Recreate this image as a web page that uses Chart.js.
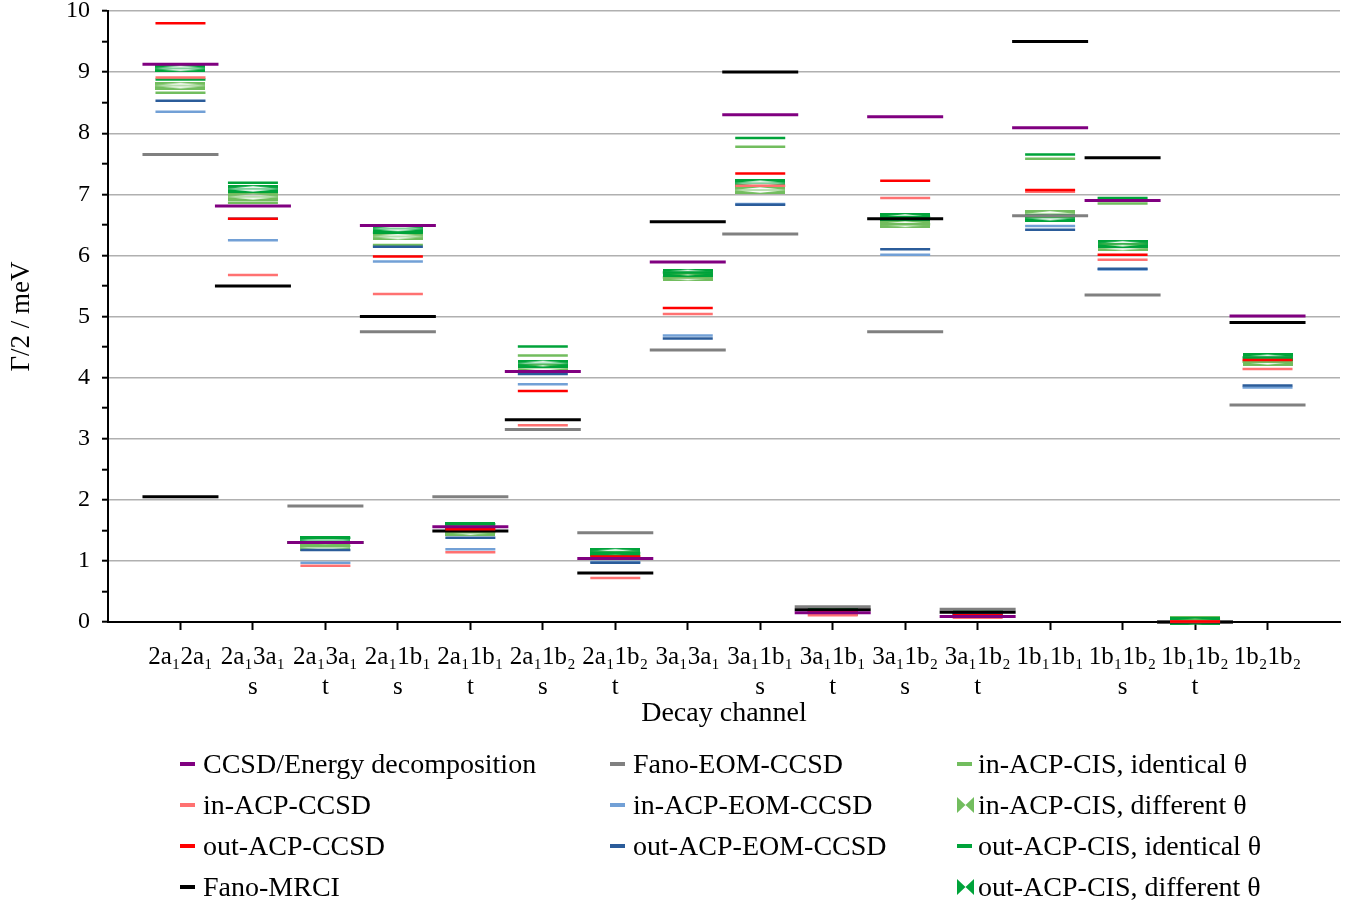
<!DOCTYPE html>
<html>
<head>
<meta charset="utf-8">
<script src="https://cdn.jsdelivr.net/npm/chart.js@4.4.1/dist/chart.umd.min.js"></script>
<style>
  html, body { margin: 0; padding: 0; background: #fff; }
  #wrap { position: relative; width: 1351px; height: 907px; }
  #legend { position: absolute; left: 0; top: 0; width: 1351px; height: 907px;
            font-family: 'Liberation Serif', serif; font-size: 28px; color: #000; }
  .item { position: absolute; height: 30px; line-height: 30px; white-space: nowrap; }
  .item svg { position: absolute; top: 7px; }
  .item span { position: absolute; }
</style>
</head>
<body>
<div id="wrap">
  <canvas id="myChart" width="1351" height="907"></canvas>
  <div id="legend"></div>
</div>
<script>
var CATEGORIES = [
    ['2a₁2a₁', ''], ['2a₁3a₁', 's'], ['2a₁3a₁', 't'], ['2a₁1b₁', 's'],
    ['2a₁1b₁', 't'], ['2a₁1b₂', 's'], ['2a₁1b₂', 't'], ['3a₁3a₁', ''],
    ['3a₁1b₁', 's'], ['3a₁1b₁', 't'], ['3a₁1b₂', 's'], ['3a₁1b₂', 't'],
    ['1b₁1b₁', ''], ['1b₁1b₂', 's'], ['1b₁1b₂', 't'], ['1b₂1b₂', '']
];

// Γ/2 in meV per decay channel, null where a method gives no value
var CCSD_ED        = [9.13, 6.81, 1.30, 6.49, 1.56, 4.10, 1.04, 5.89, 8.30, 0.15, 8.27, 0.09, 8.09, 6.90, null, 5.01];
var FANO_EOM_CCSD  = [7.65, null, 1.90, 4.75, 2.05, 3.15, 1.46, 4.45, 6.35, 0.25, 4.75, 0.21, 6.65, 5.35, 0.00, 3.55];
var FANO_MRCI      = [2.05, 5.50, 1.30, 5.00, 1.49, 3.31, 0.80, 6.55, 9.00, 0.20, 6.60, 0.16, 9.50, 7.60, 0.00, 4.90];
var IN_ACP_CCSD    = [8.91, 5.68, 0.92, 5.37, 1.14, 3.22, 0.72, 5.04, 7.14, 0.11, 6.94, 0.07, 7.04, 5.93, 0.01, 4.14];
var OUT_ACP_CCSD   = [9.80, 6.60, 1.30, 5.98, 1.52, 3.78, 1.07, 5.14, 7.34, 0.16, 7.22, 0.11, 7.07, 6.01, 0.01, 4.29];
var IN_ACP_EOM     = [8.35, 6.25, 0.97, 5.90, 1.19, 3.89, 0.98, 4.69, 6.84, 0.15, 6.01, 0.12, 6.48, 5.77, 0.01, 3.84];
var OUT_ACP_EOM    = [8.53, 6.60, 1.18, 6.14, 1.38, 4.06, 0.97, 4.64, 6.83, 0.18, 6.10, 0.14, 6.42, 5.78, 0.01, 3.87];
var IN_CIS_SAME    = [8.66, 6.86, 1.25, 6.17, 1.47, 4.36, 1.09, 5.64, 7.78, 0.17, 6.51, 0.13, 7.58, 6.85, 0.04, 4.26];
var IN_CIS_DIFF    = [8.78, 6.96, 1.22, 6.31, 1.47, 4.16, 1.10, 5.64, 7.07, 0.17, 6.51, 0.13, 6.68, 6.13, 0.03, 4.26];
var OUT_CIS_SAME   = [8.88, 7.19, 1.38, 6.37, 1.60, 4.51, 1.13, 5.72, 7.92, 0.20, 6.63, 0.15, 7.65, 6.94, 0.01, 4.33];
var OUT_CIS_DIFF   = [9.06, 7.09, 1.34, 6.44, 1.57, 4.23, 1.15, 5.72, 7.18, 0.19, 6.63, 0.15, 6.62, 6.19, 0.01, 4.33];

var FONT = "'Liberation Serif', 'Times New Roman', serif";

// the marks are short bars that may hang over the plot edge; don't let
// their width push the plot area inwards
Chart.ScatterController.prototype.getMaxOverflow = function() { return 0; };

function points(values) {
    var out = [];
    values.forEach(function(v, i) {
        if (v !== null) out.push({x: i + 1, y: v});
    });
    return out;
}

// horizontal bow-tie mark used for the "different θ" results
function bowtie(color) {
    var c = document.createElement('canvas');
    c.width = 50;
    c.height = 8;
    var g = c.getContext('2d');
    g.fillStyle = color;
    g.beginPath();
    g.moveTo(0, 0); g.lineTo(50, 0); g.lineTo(50, 3.7); g.lineTo(25, 1.2); g.lineTo(0, 3.7);
    g.closePath();
    g.fill();
    g.beginPath();
    g.moveTo(0, 8); g.lineTo(50, 8); g.lineTo(50, 4.3); g.lineTo(25, 6.8); g.lineTo(0, 4.3);
    g.closePath();
    g.fill();
    g.fillRect(0, 3.5, 50, 1);
    return c;
}

function series(label, values, color, opts) {
    opts = opts || {};
    var wide = !!opts.wide;
    return {
        label: label,
        data: points(values),
        pointStyle: opts.bowtie ? bowtie(color) : 'line',
        pointRadius: wide ? 38 : 25,
        pointHoverRadius: wide ? 38 : 25,
        pointBorderWidth: wide ? 3 : 2.5,
        pointHoverBorderWidth: wide ? 3 : 2.5,
        pointBorderColor: color,
        pointBackgroundColor: color,
        borderColor: color,
        backgroundColor: color,
        showLine: false,
        clip: false,
        legendIcon: opts.bowtie ? 'bowtie' : 'line'
    };
}

// first dataset is painted last (on top)
var datasets = [
    series('CCSD/Energy decomposition', CCSD_ED, '#800080', {wide: true}),
    series('out-ACP-CCSD', OUT_ACP_CCSD, '#ff0000'),
    series('in-ACP-CCSD', IN_ACP_CCSD, '#ff7171'),
    series('Fano-MRCI', FANO_MRCI, '#000000', {wide: true}),
    series('Fano-EOM-CCSD', FANO_EOM_CCSD, '#808080', {wide: true}),
    series('out-ACP-EOM-CCSD', OUT_ACP_EOM, '#2b5c9a'),
    series('in-ACP-EOM-CCSD', IN_ACP_EOM, '#72a0d6'),
    series('out-ACP-CIS, different θ', OUT_CIS_DIFF, '#00a33a', {bowtie: true}),
    series('out-ACP-CIS, identical θ', OUT_CIS_SAME, '#00a33a'),
    series('in-ACP-CIS, different θ', IN_CIS_DIFF, '#72bd5e', {bowtie: true}),
    series('in-ACP-CIS, identical θ', IN_CIS_SAME, '#72bd5e')
];

Chart.defaults.font.family = FONT;
Chart.defaults.color = '#000';

var ctx = document.getElementById('myChart').getContext('2d');
var chart = new Chart(ctx, {
    type: 'scatter',
    data: { datasets: datasets },
    options: {
        responsive: false,
        animation: false,
        events: [],
        layout: { padding: { top: 11, right: 11, bottom: 175, left: 0 } },
        plugins: { legend: { display: false }, tooltip: { enabled: false } },
        scales: {
            x: {
                type: 'linear',
                min: 0,
                max: 17,
                afterBuildTicks: function(axis) {
                    axis.ticks = CATEGORIES.map(function(c, i) { return {value: i + 1}; });
                },
                afterFit: function(axis) {
                    axis.height = 110;
                    axis.paddingLeft = 0;
                    axis.paddingRight = 0;
                },
                ticks: {
                    autoSkip: false,
                    maxRotation: 0,
                    padding: 12,
                    font: { size: 25, lineHeight: 1.2 },
                    callback: function(v) { return CATEGORIES[v - 1]; }
                },
                grid: { drawOnChartArea: false, tickLength: 8, tickColor: '#000', tickWidth: 2 },
                border: { color: '#000', width: 2 },
                title: { display: true, text: 'Decay channel', font: { size: 28, lineHeight: 1.2 },
                         padding: { top: 2, bottom: 2 } }
            },
            y: {
                min: 0,
                max: 10,
                afterFit: function(axis) {
                    axis.width = 108;
                    axis.paddingTop = 0;
                    axis.paddingBottom = 0;
                },
                ticks: {
                    stepSize: 0.5,
                    autoSkip: false,
                    padding: 12,
                    font: { size: 24 },
                    callback: function(v) { return Number.isInteger(v) ? v : ''; }
                },
                grid: {
                    color: function(c) {
                        return c.tick && Number.isInteger(c.tick.value) ? '#b0b0b0' : 'rgba(0,0,0,0)';
                    },
                    lineWidth: 1.4,
                    tickLength: 6,
                    tickColor: '#000',
                    tickWidth: 2
                },
                border: { color: '#000', width: 2 },
                title: { display: true, text: 'Γ/2 / meV', font: { size: 27, lineHeight: 1.2 },
                         padding: { top: 6, bottom: 0 } }
            }
        }
    }
});

// legend: three columns, filled row by row
var LEGEND_COLUMNS = [
    ['CCSD/Energy decomposition', 'in-ACP-CCSD', 'out-ACP-CCSD', 'Fano-MRCI'],
    ['Fano-EOM-CCSD', 'in-ACP-EOM-CCSD', 'out-ACP-EOM-CCSD'],
    ['in-ACP-CIS, identical θ', 'in-ACP-CIS, different θ', 'out-ACP-CIS, identical θ', 'out-ACP-CIS, different θ']
];
var colX = [180, 610, 957];
var rowY = [764, 805, 846, 887];

var legendEl = document.getElementById('legend');
LEGEND_COLUMNS.forEach(function(col, ci) {
    col.forEach(function(label, ri) {
        var ds = chart.data.datasets.filter(function(d) { return d.label === label; })[0];
        var item = document.createElement('div');
        item.className = 'item';
        item.style.left = colX[ci] + 'px';
        item.style.top = (rowY[ri] - 15) + 'px';
        var icon;
        if (ds.legendIcon === 'bowtie') {
            icon = '<svg width="17" height="16" style="left:0"><polygon points="0,0 8.5,8 0,16" fill="' + ds.borderColor +
                   '"/><polygon points="17,0 8.5,8 17,16" fill="' + ds.borderColor + '"/></svg>';
        } else {
            icon = '<svg width="16" height="16" style="left:0"><line x1="0" y1="8" x2="15" y2="8" stroke="' +
                   ds.borderColor + '" stroke-width="4"/></svg>';
        }
        item.innerHTML = icon + '<span style="left:' + (ci === 2 ? 21 : 23) + 'px">' + label + '</span>';
        legendEl.appendChild(item);
    });
});
</script>
</body>
</html>
